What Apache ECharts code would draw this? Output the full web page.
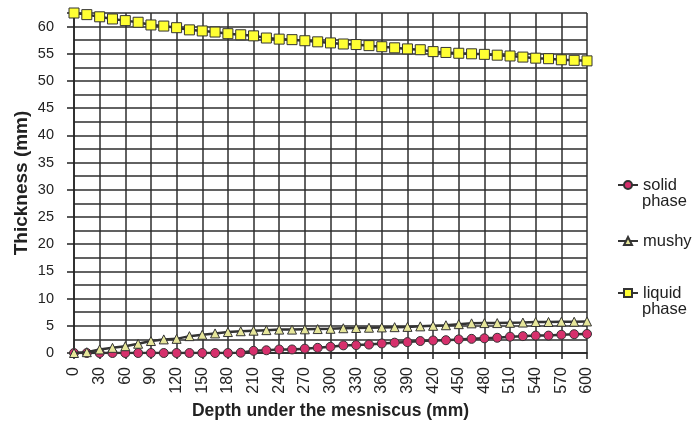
<!DOCTYPE html>
<html><head><meta charset="utf-8">
<script src="https://cdn.jsdelivr.net/npm/echarts@6/dist/echarts.min.js"></script>
<style>html,body{margin:0;padding:0;background:#fff}#c{width:694px;height:426px}</style>
</head><body><div id="c"></div>
<script>
const depth = [0,15,30,45,60,75,90,105,120,135,150,165,180,195,210,225,240,255,270,285,300,315,330,345,360,375,390,405,420,435,450,465,480,495,510,525,540,555,570,585,600];
const solidPhase = [0,0,0,0,0,0,0,0,0,0,0,0,0,0.05,0.4,0.5,0.65,0.65,0.8,0.95,1.15,1.4,1.45,1.55,1.75,1.9,2.0,2.2,2.3,2.35,2.5,2.6,2.7,2.8,3.0,3.1,3.2,3.2,3.35,3.45,3.5];
const mushy = [0,0.15,0.65,0.95,1.25,1.7,2.2,2.5,2.6,3.1,3.35,3.6,3.85,4.0,4.1,4.2,4.3,4.3,4.35,4.4,4.45,4.55,4.6,4.65,4.7,4.75,4.8,4.9,5.0,5.1,5.3,5.45,5.5,5.5,5.55,5.6,5.7,5.7,5.75,5.75,5.8];
const liquidPhase = [62.5,62.2,61.8,61.4,61.1,60.8,60.3,60.1,59.8,59.4,59.2,59.0,58.7,58.5,58.3,57.9,57.7,57.6,57.4,57.2,57.0,56.8,56.7,56.5,56.3,56.1,55.9,55.75,55.4,55.25,55.1,55.0,54.9,54.75,54.6,54.4,54.2,54.1,53.9,53.8,53.7];
const seriesNames = ['solid phase','mushy','liquid phase'];

const pair = arr => depth.map((d,i)=>[d,arr[i]]);
const chart = echarts.init(document.getElementById('c'), null, {renderer:'canvas'});
const font = '"Liberation Sans", Arial, sans-serif';
const lineStyle = {color:'#333', width:2.5};
const legendText = {fontFamily:font, fontSize:16.5, color:'#222', lineHeight:17};
const legendBase = {orient:'vertical', left:612, itemWidth:20, itemHeight:10, itemGap:0,
  formatter: n => n.split(' ')[0], textStyle:legendText};
chart.setOption({
  animation:false,
  textStyle:{fontFamily:font},
  grid:{left:74, right:107, top:13, bottom:73, containLabel:false, outerBoundsMode:'none'},
  legend:[
    Object.assign({}, legendBase, {top:171.5, data:[seriesNames[0]]}),
    Object.assign({}, legendBase, {top:227.5, data:[seriesNames[1]]}),
    Object.assign({}, legendBase, {top:279.5, data:[seriesNames[2]]})
  ],
  graphic:[
    {type:'text', left:642, top:193, silent:true, style:{text:seriesNames[0].split(' ')[1], font:'16.5px ' + font, fill:'#222'}},
    {type:'text', left:642, top:301, silent:true, style:{text:seriesNames[2].split(' ')[1], font:'16.5px ' + font, fill:'#222'}}
  ],
  xAxis:{type:'value', min:0, max:600, interval:30,
    name:'Depth under the mesniscus (mm)', nameLocation:'middle', nameGap:49, nameMoveOverlap:false,
    nameTextStyle:{fontFamily:font, fontSize:17.5, fontWeight:'bold', color:'#222'},
    axisLine:{show:true, lineStyle:{color:'#222', width:1.5}},
    axisTick:{show:true, length:6, lineStyle:{color:'#222', width:1.5}},
    axisLabel:{rotate:90, fontSize:16, color:'#222', margin:14, fontFamily:font},
    splitLine:{show:true, lineStyle:{color:'#2e2e2e', width:1.5}}
  },
  yAxis:{type:'value', min:0, max:62.5, interval:5,
    name:'Thickness (mm)', nameLocation:'middle', nameGap:43, nameMoveOverlap:false,
    nameTextStyle:{fontFamily:font, fontSize:19, fontWeight:'bold', color:'#222'},
    axisLine:{show:true, lineStyle:{color:'#222', width:1.5}},
    axisTick:{show:true, length:7, lineStyle:{color:'#222', width:1.5}},
    axisLabel:{fontSize:14.5, color:'#222', margin:20, fontFamily:font,
      formatter:v => (v % 5 === 0 ? String(v) : '')},
    splitLine:{show:true, lineStyle:{color:'#2e2e2e', width:1.5}},
    minorTick:{show:false, splitNumber:2},
    minorSplitLine:{show:true, lineStyle:{color:'#2e2e2e', width:1.5}}
  },
  series:[
    {name:seriesNames[0], type:'line', data:pair(solidPhase), symbol:'circle', symbolSize:9,
      lineStyle:lineStyle, itemStyle:{color:'#d6306c', borderColor:'#333', borderWidth:1}, z:3},
    {name:seriesNames[1], type:'line', data:pair(mushy), symbol:'triangle', symbolSize:9,
      lineStyle:lineStyle, itemStyle:{color:'#e6e69a', borderColor:'#333', borderWidth:1}, z:4},
    {name:seriesNames[2], type:'line', data:pair(liquidPhase), symbol:'rect', symbolSize:10,
      lineStyle:lineStyle, itemStyle:{color:'#ffff33', borderColor:'#333', borderWidth:1}, z:5}
  ]
});
</script></body></html>
